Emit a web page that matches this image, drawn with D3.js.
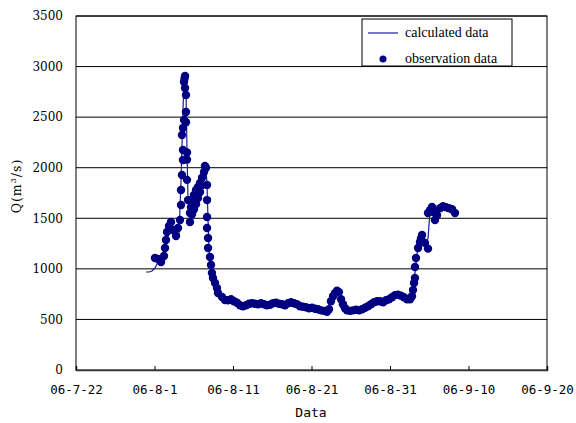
<!DOCTYPE html>
<html>
<head>
<meta charset="utf-8">
<script src="https://cdn.jsdelivr.net/npm/d3@7/dist/d3.min.js"></script>
<style>
  body { margin: 0; background: #fff; }
</style>
</head>
<body>
<div id="chart"></div>
<script>
var width = 576;
var height = 423;

// days counted from 2006-07-22 (day 0)
var startDate = new Date(2006, 6, 22);
var endDate = new Date(2006, 8, 20);

// observed discharge
var obsDay = [10.06, 10.45, 10.83, 11.21, 11.34, 11.46, 11.59, 11.85, 12.10, 12.36, 12.74, 12.99,
    13.25, 13.38, 13.38, 13.50, 13.63, 13.63, 13.50, 13.63, 13.76, 13.89, 13.76, 13.89, 13.82, 14.01,
    14.01, 14.01, 14.14, 14.14, 14.14, 14.27, 14.52, 14.52, 14.65, 14.78, 15.03, 15.29, 15.54, 15.80,
    16.05, 16.31, 16.43, 16.56, 14.78, 15.03, 15.29, 15.54, 15.80, 16.05,
    16.69, 16.69, 16.69, 16.69, 16.82, 16.82, 17.07, 17.20, 17.32, 17.45, 17.71, 17.96, 18.09, 18.60,
    18.98, 19.36, 19.75, 20.13, 20.51, 20.89, 21.27, 21.66, 22.04, 22.42, 22.80, 23.18, 23.57, 23.95,
    24.33, 24.71, 25.10, 25.48, 25.86, 26.24, 26.62, 27.01, 27.39, 27.77, 28.15, 28.54, 28.92, 29.30,
    29.68, 30.06, 30.45, 30.83, 31.21, 31.59, 31.97, 32.23, 32.48, 32.74, 32.99, 33.25, 33.50, 33.76,
    34.01, 34.27, 34.52, 34.90, 35.29, 35.67, 36.05, 36.43, 36.82, 37.20, 37.58, 37.96, 38.34, 38.73,
    39.11, 39.49, 39.87, 40.25, 40.64, 41.02, 41.40, 41.78, 42.17, 42.55, 42.80, 42.93, 43.06, 43.18,
    43.18, 43.31, 43.57, 43.82, 44.08, 43.95, 44.46, 44.84, 44.84, 45.10, 45.35, 45.61, 45.73, 45.99,
    46.37, 46.75, 47.13, 47.52, 47.90, 48.28];
var obsQ = [1107, 1097, 1068, 1127, 1206, 1285, 1364, 1424, 1463, 1384, 1325, 1404,
    1483, 1631, 1780, 1928, 2076, 2175, 2323, 2393, 2472, 2788, 2847, 2907, 2880, 2719,
    2551, 2450, 2150, 2080, 1880, 1680, 1552, 1463, 1610, 1680, 1730, 1780, 1810, 1850,
    1900, 1958, 2017, 2000, 1540, 1590, 1640, 1700, 1760, 1830,
    1830, 1680, 1512, 1404, 1305, 1206, 1117, 1038, 959, 910, 860, 811, 761, 722,
    692, 690, 700, 680, 665, 640, 630, 640, 655, 660, 655, 650, 660, 650,
    640, 645, 660, 665, 655, 650, 640, 660, 670, 660, 650, 630, 625, 620,
    610, 615, 605, 600, 590, 585, 575, 600, 680, 730, 760, 785, 770, 700,
    650, 610, 590, 585, 590, 595, 590, 600, 615, 630, 650, 670, 680, 680,
    670, 690, 700, 720, 740, 745, 735, 720, 700, 700, 730, 790, 860, 910,
    1018, 1107, 1206, 1265, 1335, 1300, 1255, 1200, 1552, 1580, 1612, 1560, 1483, 1530,
    1600, 1620, 1610, 1600, 1590, 1552];

// calculated discharge
var calcDay = [8.92, 9.30, 9.68, 10.06, 10.45, 10.83, 11.21, 11.59, 11.97, 12.36, 12.74, 13.12,
    13.38, 13.63, 13.76, 14.01, 14.14, 14.27, 14.52, 14.90, 15.41, 15.92, 16.31, 16.56, 16.69, 16.82,
    16.94, 17.20, 17.58, 18.09, 18.85, 19.62, 20.38, 21.15, 21.91, 22.68, 23.44, 24.20, 24.97, 25.73,
    26.50, 27.26, 28.03, 28.79, 29.55, 30.32, 31.08, 31.85, 32.36, 32.87, 33.25, 33.63, 34.14, 34.65,
    35.41, 36.18, 36.94, 37.71, 38.47, 39.24, 40.00, 40.76, 41.53, 42.29, 42.68, 42.93, 43.18, 43.44,
    43.82, 44.08, 44.46, 44.84, 45.10, 45.48, 45.73, 46.11, 46.62, 47.26, 47.77, 48.28];
var calcQ = [969, 969, 979, 1008, 1068, 1107, 1186, 1285, 1384, 1364, 1355, 1335,
    1878, 2570, 2867, 2768, 2175, 1680, 1532, 1631, 1730, 1829, 1928, 1997, 1829, 1483,
    1186, 1038, 890, 771, 692, 680, 670, 635, 650, 660, 655, 645, 655, 660,
    645, 665, 655, 628, 615, 610, 595, 578, 640, 745, 780, 740, 630, 590,
    590, 595, 620, 655, 680, 675, 705, 740, 730, 700, 705, 790, 960, 1150,
    1265, 1330, 1255, 1300, 1570, 1610, 1490, 1560, 1615, 1610, 1595, 1552];

var yTicks = [0, 500, 1000, 1500, 2000, 2500, 3000, 3500];
var xTickDays = [0, 10, 20, 30, 40, 50, 60];

var legendLabels = ["calculated data", "observation data"];

var navy = "#000080";

function dayToDate(d) {
    return new Date(startDate.getTime() + d * 864e5);
}

var svg = d3.select("#chart")
    .append("svg")
    .attr("width", width)
    .attr("height", height);

var x = d3.scaleTime()
    .domain([startDate, endDate])
    .range([76, 547]);

var y = d3.scaleLinear()
    .domain([0, 3500])
    .range([370, 16]);

// horizontal grid
svg.append("g")
    .selectAll("line")
    .data(yTicks.slice(1))
    .enter()
    .append("line")
    .attr("x1", 76)
    .attr("x2", 547)
    .attr("y1", d => y(d))
    .attr("y2", d => y(d))
    .attr("stroke", "#000")
    .attr("stroke-width", 1);

// plot frame
svg.append("rect")
    .attr("x", 76)
    .attr("y", 16)
    .attr("width", 471)
    .attr("height", 354)
    .attr("fill", "none")
    .attr("stroke", "#000")
    .attr("stroke-width", 1);

// x axis with inside ticks
var xAxis = d3.axisBottom(x)
    .tickValues(xTickDays.map(dayToDate))
    .tickSize(-4)
    .tickPadding(15)
    .tickFormat(d => "06-" + (d.getMonth() + 1) + "-" + d.getDate());

var gx = svg.append("g")
    .attr("transform", "translate(0,370)")
    .call(xAxis);
gx.select(".domain").attr("stroke", "#333").attr("stroke-width", 1.5);
gx.selectAll(".tick line").attr("stroke", "#000");
gx.selectAll("text")
    .attr("fill", "#000")
    .style("font-family", "'DejaVu Sans Mono', monospace")
    .style("font-size", "12.5px");

var yAxis = d3.axisLeft(y)
    .tickValues(yTicks)
    .tickSize(0)
    .tickPadding(13)
    .tickFormat(d3.format("d"));

var gy = svg.append("g")
    .attr("transform", "translate(76,0)")
    .call(yAxis);
gy.select(".domain").remove();
gy.selectAll("text")
    .attr("fill", "#000")
    .style("font-family", "'DejaVu Serif', serif")
    .style("font-size", "12px");

// axis titles
svg.append("text")
    .attr("x", 311)
    .attr("y", 417)
    .attr("text-anchor", "middle")
    .style("font-family", "'DejaVu Sans Mono', monospace")
    .style("font-size", "13px")
    .text("Data");

var yTitle = svg.append("text")
    .attr("transform", "translate(21,186) rotate(-90)")
    .attr("text-anchor", "middle")
    .style("font-family", "'DejaVu Serif', serif")
    .style("font-size", "12.5px")
    .style("letter-spacing", "1px");
yTitle.append("tspan").text("Q(m");
yTitle.append("tspan").attr("dy", -5).style("font-size", "8px").text("3");
yTitle.append("tspan").attr("dy", 5).text("/s)");

// calculated line
var calcData = calcDay.map((d, i) => ({ date: dayToDate(d), q: calcQ[i] }));
var obsData = obsDay.map((d, i) => ({ date: dayToDate(d), q: obsQ[i] }));

var line = d3.line()
    .x(d => x(d.date))
    .y(d => y(d.q));

svg.append("path")
    .datum(calcData)
    .attr("fill", "none")
    .attr("stroke", "#1c1c96")
    .attr("stroke-width", 1.2)
    .attr("d", line);

svg.append("g")
    .selectAll("circle")
    .data(obsData)
    .enter()
    .append("circle")
    .attr("cx", d => x(d.date))
    .attr("cy", d => y(d.q))
    .attr("r", 4.2)
    .attr("fill", navy);

// legend
var legend = svg.append("g");
legend.append("rect")
    .attr("x", 362)
    .attr("y", 19)
    .attr("width", 150)
    .attr("height", 47)
    .attr("fill", "#fff")
    .attr("stroke", "#000");
legend.append("line")
    .attr("x1", 368)
    .attr("x2", 398)
    .attr("y1", 33)
    .attr("y2", 33)
    .attr("stroke", "#1c1c96")
    .attr("stroke-width", 1.2);
legend.append("circle")
    .attr("cx", 383)
    .attr("cy", 59)
    .attr("r", 3.5)
    .attr("fill", navy);
legend.selectAll("text")
    .data(legendLabels)
    .enter()
    .append("text")
    .attr("x", 405)
    .attr("y", (d, i) => 37 + i * 26)
    .style("font-family", "'Liberation Serif', serif")
    .style("font-size", "14px")
    .text(d => d);
</script>
</body>
</html>
